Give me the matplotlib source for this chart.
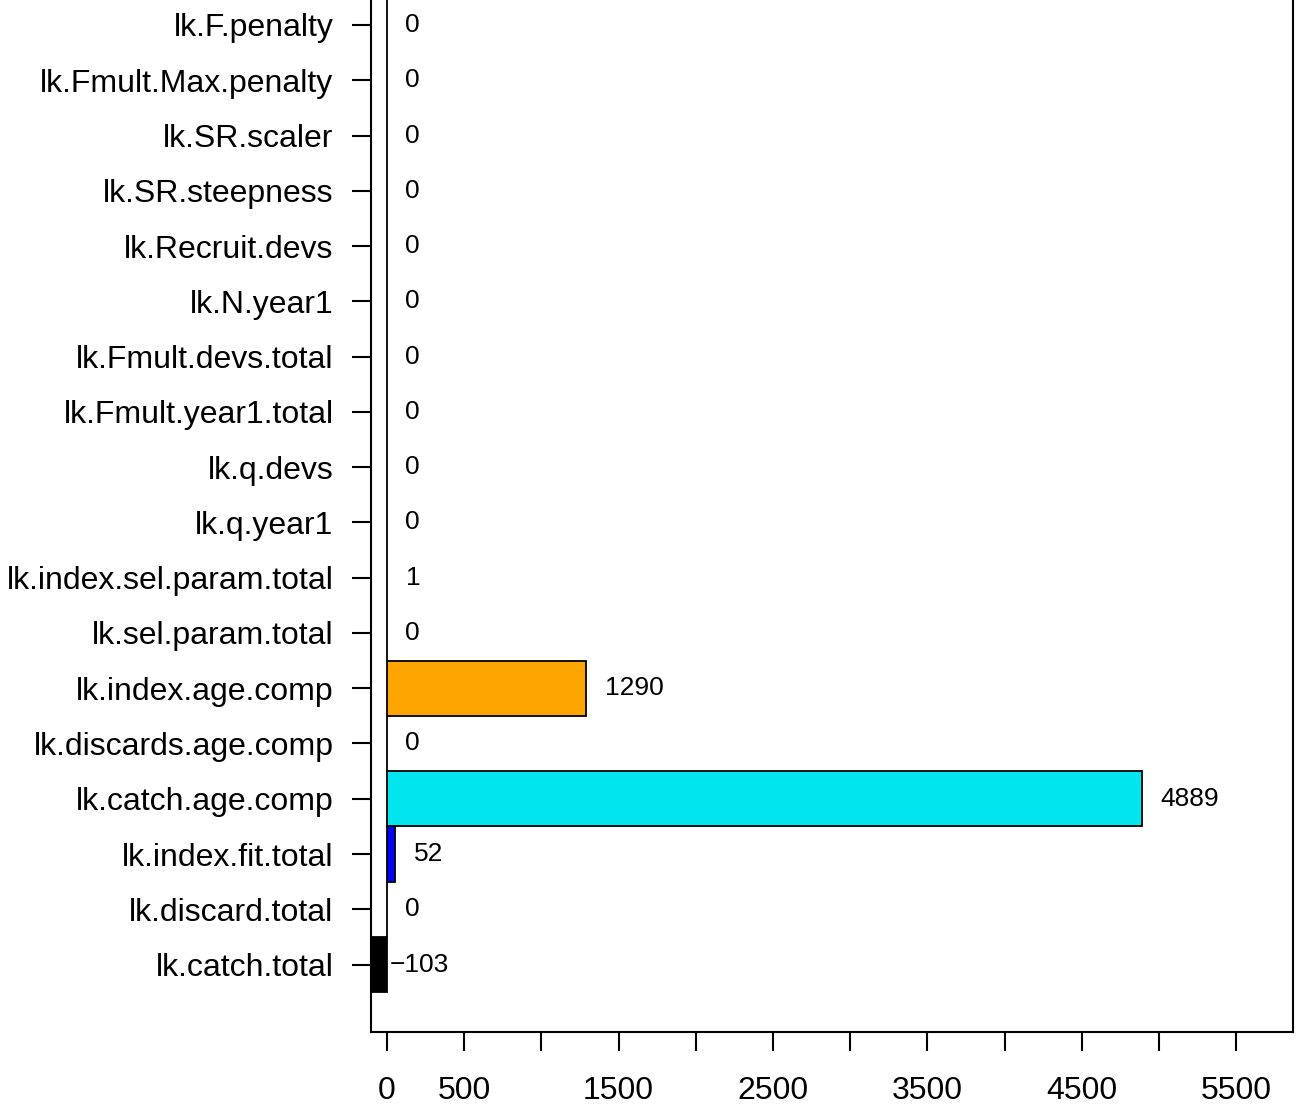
import numpy as np
import matplotlib.pyplot as plt

plt.rcParams['font.family'] = ['Liberation Sans', 'DejaVu Sans']

# 尤度の成分 (下から上へ)
components = ['lk.catch.total', 'lk.discard.total', 'lk.index.fit.total',
              'lk.catch.age.comp', 'lk.discards.age.comp', 'lk.index.age.comp',
              'lk.sel.param.total', 'lk.index.sel.param.total', 'lk.q.year1',
              'lk.q.devs', 'lk.Fmult.year1.total', 'lk.Fmult.devs.total',
              'lk.N.year1', 'lk.Recruit.devs', 'lk.SR.steepness', 'lk.SR.scaler',
              'lk.Fmult.Max.penalty', 'lk.F.penalty']
values = [-103, 0, 52, 4889, 0, 1290, 0, 1, 0, 0, 0, 0, 0, 0, 0, 0, 0, 0]
bar_colors = ['black', 'white', 'blue', '#00E5EE', 'white', 'orange',
              'white', 'white', 'white', 'white', 'white', 'white',
              'white', 'white', 'white', 'white', 'white', 'white']

xticks = [0, 500, 1000, 1500, 2000, 2500, 3000, 3500, 4000, 4500, 5000, 5500]
xtick_labels = ['0', '500', '', '1500', '', '2500', '', '3500', '', '4500', '', '5500']

fig = plt.figure(figsize=(12.97, 11.08), dpi=100)
ax = fig.add_axes([0.2861, 0.0686, 0.7106, 0.9697])

n = len(values)
ypos = np.arange(n) + 0.5
ax.barh(ypos, values, height=1.0, color=bar_colors, edgecolor='black', linewidth=1.3)

# 値のラベル
for y, v in zip(ypos, values):
    ax.text(v + 120, y, str(v).replace('-', '\u2212'), ha='left', va='center', fontsize=19)

ax.set_xlim(min(values), max(values) * 1.2)
ax.set_ylim(-0.72, n + 0.72)

ax.set_yticks(ypos)
ax.set_yticklabels(components, fontsize=23)
ax.set_xticks(xticks)
ax.set_xticklabels(xtick_labels, fontsize=23)

ax.tick_params(axis='y', length=14, width=1.5, pad=13)
ax.tick_params(axis='x', length=14, width=1.5, pad=18)
ax.spines['top'].set_visible(False)
for s in ['left', 'right', 'bottom']:
    ax.spines[s].set_linewidth(1.5)

fig.savefig('out.png', dpi=100)
